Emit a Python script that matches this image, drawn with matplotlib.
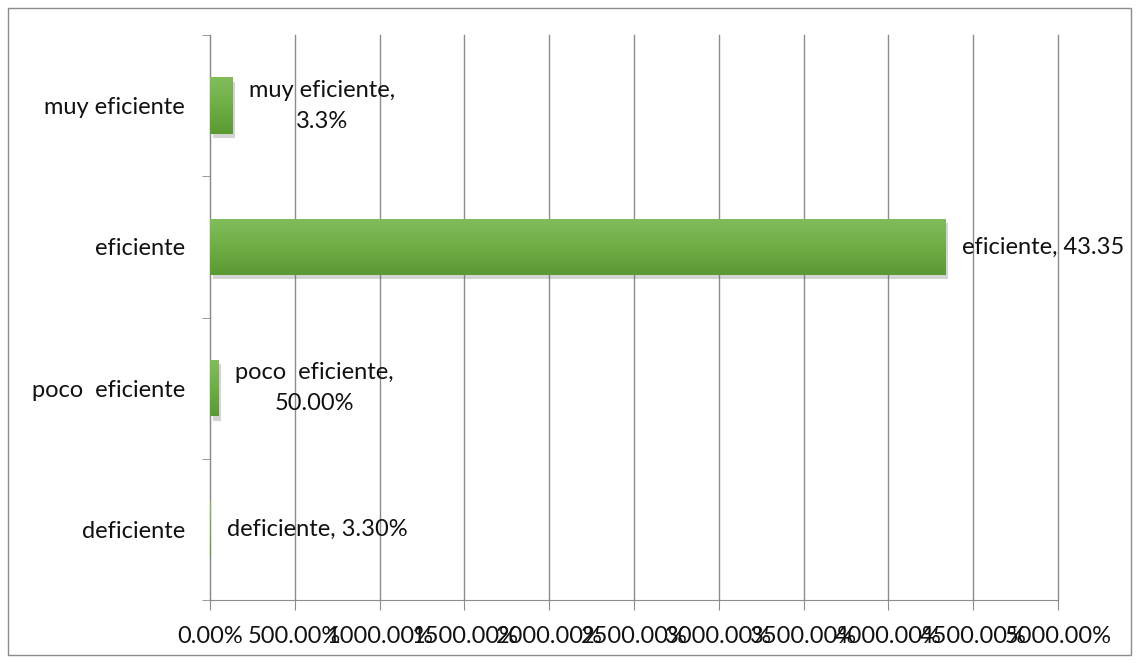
import matplotlib
matplotlib.use("Agg")
import numpy as np
import matplotlib.pyplot as plt
import matplotlib.patches as mpatches
import matplotlib.patheffects as pe
from matplotlib.colors import LinearSegmentedColormap
from matplotlib.ticker import FuncFormatter

categories = ["deficiente", "poco  eficiente", "eficiente", "muy eficiente"]
values = [0.033, 0.5, 43.35, 1.3]
labels = ["deficiente, 3.30%", "poco  eficiente,\n50.00%", "eficiente, 43.35", "muy eficiente,\n3.3%"]
xticks = [0, 5, 10, 15, 20, 25, 30, 35, 40, 45, 50]

plt.rcParams['font.family'] = ['Lato', 'DejaVu Sans']
FS = 17

fig = plt.figure(figsize=(11.39, 6.63), dpi=100)
ax = fig.add_axes([210/1139, 1-600/663, (1058-210)/1139, (600-35)/663])

y = list(range(len(categories)))
bars = ax.barh(y, values, height=0.4, color='#6aaa3f', zorder=3,
               path_effects=[pe.SimplePatchShadow(offset=(2, -3), alpha=0.25, shadow_rgbFace='#555555'), pe.Normal()])

cmap = LinearSegmentedColormap.from_list('g', ['#5b9a33', '#6fae45', '#82bd5c'])
grad = np.linspace(0, 1, 100).reshape(-1, 1)
ax.set_xlim(0, 50)
ax.set_ylim(-0.5, 3.5)
for b in bars:
    x0, y0, w, h = b.get_x(), b.get_y(), b.get_width(), b.get_height()
    im = ax.imshow(grad, cmap=cmap, aspect='auto', origin='lower',
                   extent=[x0, x0 + w, y0, y0 + h], zorder=3.5)
    im.set_clip_path(b)

for yi, v, lab in zip(y, values, labels):
    ax.annotate(lab, xy=(v, yi), xytext=(12, 0), textcoords='offset points',
                ha='left', va='center', fontsize=FS, color='#111111',
                multialignment='center', linespacing=1.6, zorder=4)

ax.set_xlim(0, 50)
ax.set_ylim(-0.5, 3.5)
ax.set_xticks(xticks)
ax.xaxis.set_major_formatter(FuncFormatter(lambda v, p: f"{v*100:.2f}%"))
ax.set_yticks(y)
ax.set_yticklabels(categories)
ax.set_yticks([-0.5, 0.5, 1.5, 2.5, 3.5], minor=True)
ax.tick_params(axis='y', which='major', length=0, pad=18, labelsize=FS, labelcolor='#111111')
ax.tick_params(axis='y', which='minor', length=6, color='#8c8c8c', direction='out')
ax.tick_params(axis='x', length=7, color='#8c8c8c', labelsize=FS, pad=12, labelcolor='#111111')

ax.grid(axis='x', color='#8c8c8c', linewidth=1, zorder=0)
for gl in ax.get_xgridlines():
    gl.set_clip_on(False)
for s in ['top', 'right']:
    ax.spines[s].set_visible(False)
for s in ['left', 'bottom']:
    ax.spines[s].set_color('#8c8c8c')

fig.patches.append(mpatches.Rectangle((8/1139, 8/663), (1131-8)/1139, (655-8)/663,
                                      transform=fig.transFigure, fill=False,
                                      edgecolor='#8c8c8c', linewidth=1))

fig.savefig("out.png", dpi=100)
